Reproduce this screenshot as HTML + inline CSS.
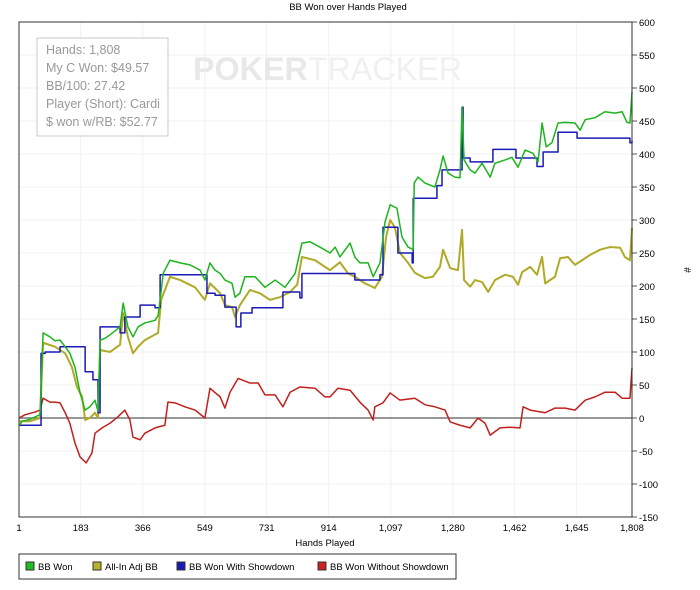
<!DOCTYPE html>
<html><head><meta charset="utf-8"><style>
body{margin:0;background:#fff;width:700px;height:590px;overflow:hidden;font-family:"Liberation Sans",Arial,sans-serif}
svg{display:block}
</style></head><body>
<svg id="chart" width="700" height="590" xmlns="http://www.w3.org/2000/svg">
<text x="348" y="10" font-size="9.5" text-anchor="middle" fill="#000">BB Won over Hands Played</text>
<g id="grid"></g>
<text x="193" y="80" font-size="32" textLength="269" lengthAdjust="spacingAndGlyphs" fill="#eeeeee"><tspan font-weight="bold" fill="#e8e8e8">POKER</tspan><tspan fill="#f0f0f0">TRACKER</tspan></text>
<g id="series"></g>
<g id="axes"></g>
<g>
<rect x="37" y="38" width="131" height="98" fill="#fff" fill-opacity="0.85" stroke="#c8c8c8"/>
<g font-size="12.5" fill="#999">
<text x="46" y="54">Hands: 1,808</text>
<text x="46" y="72">My C Won: $49.57</text>
<text x="46" y="90">BB/100: 27.42</text>
<text x="46" y="108">Player (Short): Cardi</text>
<text x="46" y="126">$ won w/RB: $52.77</text>
</g></g>
<text x="325" y="546" font-size="9.5" text-anchor="middle">Hands Played</text>
<text x="684" y="270" font-size="10" text-anchor="middle" transform="rotate(90 684 270)">#</text>
<g>
<rect x="19" y="554" width="437" height="25" fill="#fff" stroke="#333"/>
<g><rect x="26" y="562" width="8" height="8" fill="#22bb22" stroke="#333"/><text x="38" y="570" font-size="9.5">BB Won</text></g>
<g><rect x="93" y="562" width="8" height="8" fill="#b5b52a" stroke="#333"/><text x="105" y="570" font-size="9.5">All-In Adj BB</text></g>
<g><rect x="177" y="562" width="8" height="8" fill="#1a1ab5" stroke="#333"/><text x="189" y="570" font-size="9.5">BB Won With Showdown</text></g>
<g><rect x="318" y="562" width="8" height="8" fill="#cc2222" stroke="#333"/><text x="330" y="570" font-size="9.5">BB Won Without Showdown</text></g>
</g>
</svg>
<script>
const xTicks=[1,183,366,549,731,914,1097,1280,1462,1645,1808];
const xTickLabels=["1","183","366","549","731","914","1,097","1,280","1,462","1,645","1,808"];
const yTicks=[600,550,500,450,400,350,300,250,200,150,100,50,0,-50,-100,-150];
const greenHands=[1,10,33,63,72,92,107,122,137,151,166,181,196,210,225,234,240,255,269,299,308,322,337,352,372,402,411,417,426,446,476,505,535,549,564,579,594,608,629,638,652,667,697,726,756,785,815,835,859,888,918,933,947,977,991,1006,1030,1045,1065,1080,1095,1115,1130,1148,1163,1166,1177,1198,1227,1242,1251,1266,1286,1301,1307,1313,1331,1345,1366,1390,1404,1434,1454,1472,1493,1516,1531,1543,1555,1572,1590,1611,1640,1655,1670,1699,1728,1758,1779,1793,1802,1808];
const greenVals=[-12,-5,-2,5,129,123,117,118,108,98,77,38,12,17,27,10,118,121,126,138,174,138,123,138,144,148,155,179,219,239,235,232,224,209,235,224,219,209,204,183,189,214,214,198,209,198,219,265,267,259,250,259,244,265,244,235,235,214,235,297,323,318,274,259,255,356,365,356,350,376,397,371,365,364,471,391,376,371,386,365,386,391,395,380,406,401,388,447,411,417,447,448,447,436,452,455,464,462,464,448,447,494];
const oliveHands=[1,33,63,72,107,137,157,172,187,196,210,225,234,240,269,299,308,322,337,352,372,411,420,446,476,520,549,564,594,608,629,638,652,682,711,741,770,800,821,835,874,903,918,947,971,991,1021,1050,1071,1083,1095,1109,1124,1148,1168,1198,1221,1242,1251,1272,1295,1307,1313,1331,1345,1366,1384,1404,1434,1457,1472,1484,1508,1528,1543,1552,1581,1596,1619,1640,1661,1684,1714,1743,1773,1787,1802,1808];
const oliveVals=[-5,-5,0,114,108,98,77,47,32,-3,0,8,0,103,100,111,159,123,98,108,118,129,179,214,209,198,179,204,189,171,168,153,171,194,189,179,183,191,202,244,239,229,224,236,219,214,204,197,214,274,300,289,250,235,220,212,214,229,255,227,224,285,209,199,209,206,191,209,217,214,202,221,229,217,244,204,214,242,244,232,239,247,255,259,258,244,239,288];
const blueHands=[1,66,78,122,196,219,234,240,299,313,358,402,417,555,579,608,641,655,688,779,829,835,991,1065,1074,1118,1160,1163,1233,1248,1307,1310,1331,1398,1466,1528,1546,1590,1646,1802,1808];
const blueVals=[-11,98,100,108,70,58,8,138,129,153,171,167,217,189,186,168,138,159,167,191,182,219,209,217,289,250,235,333,352,376,471,394,388,407,394,381,403,433,424,417,420];
const redHands=[1,19,48,63,72,92,107,122,137,151,166,181,199,216,225,246,269,293,313,328,337,358,372,402,431,440,461,490,520,549,564,594,608,623,647,682,706,726,756,779,800,829,874,903,918,941,977,1006,1030,1045,1050,1074,1095,1124,1168,1198,1227,1257,1272,1301,1331,1354,1375,1390,1419,1448,1478,1487,1508,1552,1581,1611,1640,1670,1699,1728,1758,1779,1802,1808];
const redVals=[0,5,9,12,30,24,24,23,8,-8,-38,-59,-68,-53,-23,-15,-8,2,12,-3,-29,-33,-23,-15,-11,24,23,17,12,0,45,32,15,39,60,53,53,35,35,17,39,47,45,32,32,45,42,24,12,-3,17,23,38,27,30,20,17,12,-6,-11,-15,0,-8,-26,-15,-14,-15,17,12,8,15,15,12,27,32,39,39,30,30,76];

const L=19,R=632,T=22,B=517,XMIN=1,XMAX=1808,YMIN=-150,YMAX=600;
const sx=h=>L+(h-XMIN)/(XMAX-XMIN)*(R-L);
const sy=v=>B-(v-YMIN)/(YMAX-YMIN)*(B-T);
const NS="http://www.w3.org/2000/svg";
function mk(tag,attrs,parent){const e=document.createElementNS(NS,tag);for(const k in attrs)e.setAttribute(k,attrs[k]);parent.appendChild(e);return e;}
const grid=document.getElementById('grid'),axes=document.getElementById('axes'),series=document.getElementById('series');
xTicks.forEach((t,i)=>{
  const gl=mk('line',{x1:sx(t),x2:sx(t),y1:T,y2:B,stroke:'#f0f0f0'},grid);
  
  
  const tl=mk('text',{x:sx(t),y:B+14,'font-size':9.5,'text-anchor':'middle'},axes);
  tl.textContent=xTickLabels[i];
  
  
});
yTicks.forEach(t=>{
  const gl=mk('line',{x1:L,x2:R,y1:sy(t),y2:sy(t),stroke:'#f0f0f0'},grid);
  
  
  mk('line',{x1:R,x2:R+5,y1:sy(t),y2:sy(t),stroke:'#555'},axes);
  const tl=mk('text',{x:R+7,y:sy(t)+4,'font-size':9.5},axes);
  tl.textContent=String(t);
  
  
});
const zl=mk('line',{x1:L,x2:R,y1:sy(0),y2:sy(0),stroke:'#777','stroke-width':1.5},grid);


mk('rect',{x:L,y:T,width:R-L,height:B-T,fill:'none',stroke:'#333','stroke-width':1},axes);
function line(h,v,color,w,name,step){
  let d='';
  for(let i=0;i<h.length;i++){
    if(i===0)d='M'+sx(h[0])+','+sy(v[0]);
    else if(step)d+=' H'+sx(h[i])+' V'+sy(v[i]);
    else d+=' L'+sx(h[i])+','+sy(v[i]);
  }
  const p=mk('path',{d:d,fill:'none',stroke:color,'stroke-width':w,'stroke-linejoin':'round'},series);
  
  
}
line(redHands,redVals,'#c0201e',1.5,'line-bb-won-without-showdown',false);
line(oliveHands,oliveVals,'#b0aa28',2,'line-all-in-adj-bb',false);
line(blueHands,blueVals,'#1a1ab5',1.5,'line-bb-won-with-showdown',true);
line(greenHands,greenVals,'#1eb41e',1.5,'line-bb-won',false);
</script>
</body></html>
